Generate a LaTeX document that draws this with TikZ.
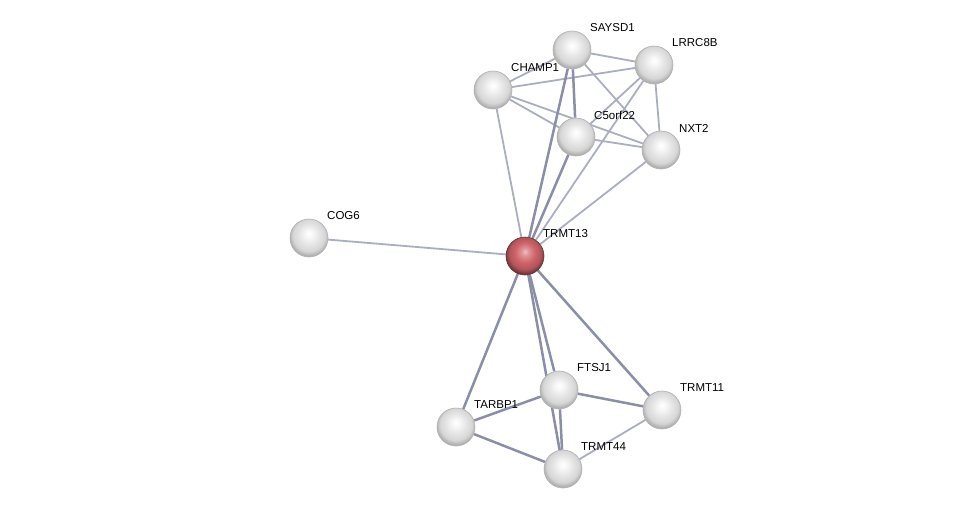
\documentclass[tikz,border=0pt]{standalone}
\usepackage{fontspec}
\setmainfont{Liberation Sans}
\usepackage{tikz}
\usetikzlibrary{backgrounds, calc}
\definecolor{edgelight}{HTML}{ABAEC0}
\definecolor{edgedark}{HTML}{8A8EA8}
\definecolor{queryred}{HTML}{D0646A}
\pgfdeclareradialshading{protball}{\pgfpoint{0bp}{6bp}}{color(0bp)=(white); color(5bp)=(gray!6); color(13bp)=(gray!20); color(21bp)=(gray!32); color(26bp)=(gray!62); color(50bp)=(gray!62)}
\pgfdeclareradialshading{queryball}{\pgfpoint{0bp}{6bp}}{color(0bp)=(queryred!40!white); color(5bp)=(queryred!70!white); color(13bp)=(queryred); color(21bp)=(queryred!85!black); color(26bp)=(queryred!55!black); color(50bp)=(queryred!55!black)}

\begin{document}
\begin{tikzpicture}[
    x=1pt, y=-1pt,
    prot/.style={circle, minimum size=38pt, inner sep=0pt, shading=protball, draw=gray!60, line width=0.6pt},
    query/.style={prot, shading=queryball, draw=queryred!50!black},
    lbl/.style={anchor=west, inner sep=0pt, font=\fontsize{11.5}{13}\selectfont},
    weak/.style={draw=edgelight, line width=1.8pt},
    strong/.style={draw=edgedark, line width=2.5pt}
]
\useasboundingbox (0,0) rectangle (976,514);

% proteins
\node[prot] (SAYSD1) at (572,50) {};
\node[prot] (LRRC8B) at (654,65) {};
\node[prot] (CHAMP1) at (493,90) {};
\node[prot] (C5orf22) at (576,137) {};
\node[prot] (NXT2) at (661,150) {};
\node[prot] (COG6) at (309,238) {};
\node[query] (TRMT13) at (525,256) {};
\node[prot] (FTSJ1) at (559,390) {};
\node[prot] (TRMT11) at (662,410) {};
\node[prot] (TARBP1) at (456,427) {};
\node[prot] (TRMT44) at (563,469) {};

% names
\foreach \p in {SAYSD1,LRRC8B,CHAMP1,C5orf22,NXT2,COG6,TRMT13,FTSJ1,TRMT11,TARBP1,TRMT44}
    \node[lbl] (l\p) at ($(\p)+(18,-22)$) {\p};

% interactions
\begin{scope}[on background layer]
\draw[weak] (CHAMP1) -- (SAYSD1);
\draw[weak] (CHAMP1) -- (LRRC8B);
\draw[weak] (CHAMP1) -- (C5orf22);
\draw[weak] (CHAMP1) -- (NXT2);
\draw[weak] (CHAMP1) -- (TRMT13);
\draw[weak] (SAYSD1) -- (LRRC8B);
\draw[weak] (SAYSD1) -- (NXT2);
\draw[strong] (SAYSD1) -- (C5orf22);
\draw[strong] (SAYSD1) -- (TRMT13);
\draw[weak] (LRRC8B) -- (C5orf22);
\draw[weak] (LRRC8B) -- (NXT2);
\draw[weak] (LRRC8B) -- (TRMT13);
\draw[weak] (C5orf22) -- (NXT2);
\draw[strong] (C5orf22) -- (TRMT13);
\draw[weak] (NXT2) -- (TRMT13);
\draw[weak] (COG6) -- (TRMT13);
\draw[strong] (TRMT13) -- (FTSJ1);
\draw[strong] (TRMT13) -- (TRMT44);
\draw[strong] (TRMT13) -- (TARBP1);
\draw[strong] (TRMT13) -- (TRMT11);
\draw[strong] (FTSJ1) -- (TARBP1);
\draw[strong] (FTSJ1) -- (TRMT11);
\draw[strong] (FTSJ1) -- (TRMT44);
\draw[strong] (TARBP1) -- (TRMT44);
\draw[weak] (TRMT44) -- (TRMT11);
\end{scope}

\end{tikzpicture}
\end{document}
